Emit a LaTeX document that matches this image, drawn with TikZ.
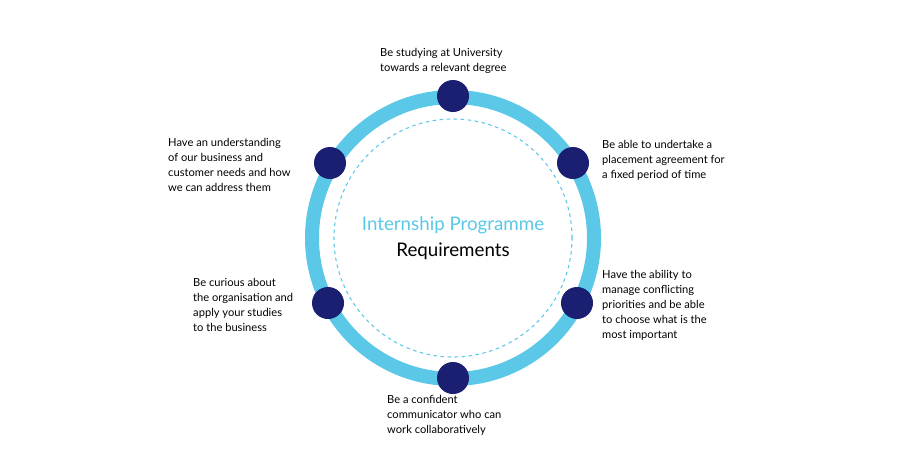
\documentclass[tikz,border=0pt]{standalone}
\usepackage{fontspec}
\setmainfont{Lato}
\usepackage{tikz}
\usetikzlibrary{positioning}
\definecolor{ringColor}{RGB}{91,200,232}
\definecolor{dotColor}{RGB}{26,31,113}
\tikzset{
  reqdot/.style={circle,fill=dotColor,inner sep=0pt,minimum size=0.96cm},
  reqtext/.style={align=left,anchor=north west,inner sep=0pt,font=\fontsize{9.5}{12.8}\selectfont}
}
\begin{document}
\begin{tikzpicture}[x=0.03cm,y=-0.03cm]
\useasboundingbox[fill=white] (0,0) rectangle (905,475);
\coordinate (c) at (453,238);
\draw[ringColor,line width=0.42cm] (c) circle[radius=4.23cm];
\draw[ringColor,dashed,line width=0.9pt] (c) circle[radius=3.57cm];
\node[font=\fontsize{16}{22}\selectfont,align=center] (title) at (c)
  {\textcolor{ringColor}{Internship Programme}\\Requirements};
% dots round the ring
\node[reqdot] (dtop) at (453,96) {};
\node[reqdot] (dru) at (573,163) {};
\node[reqdot] (drl) at (577,303) {};
\node[reqdot] (dbot) at (453,378) {};
\node[reqdot] (dll) at (328,303) {};
\node[reqdot] (dlu) at (330,163) {};
% labels
\node[reqtext] (ttop) at (380,48) {Be studying at University\\towards a relevant degree};
\node[reqtext] (tru) at (602,140) {Be able to undertake a\\placement agreement for\\a fixed period of time};
\node[reqtext] (trl) at (602,270) {Have the ability to\\manage conflicting\\priorities and be able\\to choose what is the\\most important};
\node[reqtext] (tbot) at (387,395) {Be a confident\\communicator who can\\work collaboratively};
\node[reqtext] (tll) at (193,278) {Be curious about\\the organisation and\\apply your studies\\to the business};
\node[reqtext] (tlu) at (168,138) {Have an understanding\\of our business and\\customer needs and how\\we can address them};
\end{tikzpicture}
\end{document}
